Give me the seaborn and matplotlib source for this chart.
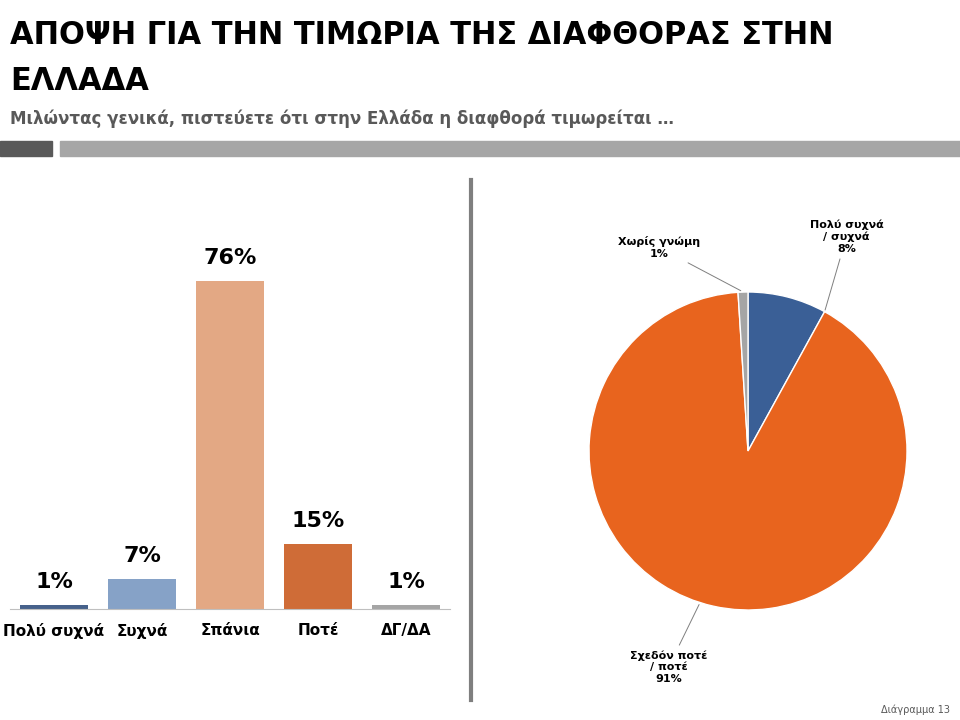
import matplotlib
matplotlib.use('Agg')
import matplotlib.pyplot as plt
import seaborn as sns
import pandas as pd

bar_labels = ['Πολύ συχνά', 'Συχνά', 'Σπάνια', 'Ποτέ', 'ΔΓ/ΔΑ']
bar_values = [1, 7, 76, 15, 1]
bar_colors = ['#3A5F96', '#7BA0D2', '#F3A474', '#E8641E', '#A5A5A5']

pie_labels = ['Πολύ συχνά\n/ συχνά\n8%', 'Σχεδόν ποτέ\n/ ποτέ\n91%', 'Χωρίς γνώμη\n1%']
pie_values = [8, 91, 1]
pie_colors = ['#3A5F96', '#E8641E', '#A5A5A5']

W, H = 960, 720
fig = plt.figure(figsize=(9.6, 7.2), dpi=100)
font = 'DejaVu Sans'

def fx(x): return x / W
def fy(y): return 1 - y / H

fig.text(fx(10), fy(35), 'ΑΠΟΨΗ ΓΙΑ ΤΗΝ ΤΙΜΩΡΙΑ ΤΗΣ ΔΙΑΦΘΟΡΑΣ ΣΤΗΝ', fontsize=22, fontweight='bold', va='center', family=font)
fig.text(fx(10), fy(82), 'ΕΛΛΑΔΑ', fontsize=22, fontweight='bold', va='center', family=font)
fig.text(fx(10), fy(119), 'Μιλώντας γενικά, πιστεύετε ότι στην Ελλάδα η διαφθορά τιμωρείται …',
         fontsize=12, fontweight='bold', color='#595959', va='center', family=font)
fig.patches.append(plt.Rectangle((0, fy(156)), fx(52), 15/H, transform=fig.transFigure, color='#595959'))
fig.patches.append(plt.Rectangle((fx(60), fy(156)), 1 - fx(60), 15/H, transform=fig.transFigure, color='#A6A6A6'))
fig.add_artist(plt.Line2D([fx(471), fx(471)], [fy(180), fy(700)], transform=fig.transFigure, color='#7F7F7F', lw=3))
fig.text(fx(950), fy(710), 'Διάγραμμα 13', fontsize=7, color='#595959', ha='right', va='center', family=font)

# bar chart
ax = fig.add_axes([fx(10), fy(609), fx(440), 80 * 4.32 / H])
df = pd.DataFrame({'label': bar_labels, 'value': bar_values})
sns.barplot(data=df, x='label', y='value', hue='label', palette=bar_colors, legend=False, width=0.78, ax=ax)
ax.set_ylim(0, 80)
ax.set_yticks([])
ax.set_xlabel('')
ax.set_ylabel('')
for s in ['top', 'right', 'left']:
    ax.spines[s].set_visible(False)
ax.spines['bottom'].set_color('#BFBFBF')
ax.tick_params(axis='x', length=0, pad=10)
for t in ax.get_xticklabels():
    t.set_fontweight('bold'); t.set_fontsize(11)
for i, v in enumerate(bar_values):
    ax.text(i, v + 3, f'{v}%', ha='center', va='bottom', fontsize=16, fontweight='bold')

# pie chart
r = 159
pax = fig.add_axes([fx(748 - r), fy(451 + r), 2 * r / W, 2 * r / H])
pax.pie(pie_values, colors=pie_colors, startangle=90, counterclock=False,
        wedgeprops=dict(edgecolor='white', linewidth=1))
pax.set_xlim(-1, 1); pax.set_ylim(-1, 1)
pax.annotate(pie_labels[0], xy=(0.48, 0.87), xytext=(0.62, 1.35), ha='center', va='center',
             fontsize=8, fontweight='bold', annotation_clip=False,
             arrowprops=dict(arrowstyle='-', color='#7F7F7F', lw=0.7))
pax.annotate(pie_labels[1], xy=(-0.3, -0.95), xytext=(-0.5, -1.36), ha='center', va='center',
             fontsize=8, fontweight='bold', annotation_clip=False,
             arrowprops=dict(arrowstyle='-', color='#7F7F7F', lw=0.7))
pax.annotate(pie_labels[2], xy=(-0.03, 1.0), xytext=(-0.56, 1.28), ha='center', va='center',
             fontsize=8, fontweight='bold', annotation_clip=False,
             arrowprops=dict(arrowstyle='-', color='#7F7F7F', lw=0.7))

fig.savefig('out.png', dpi=100)
